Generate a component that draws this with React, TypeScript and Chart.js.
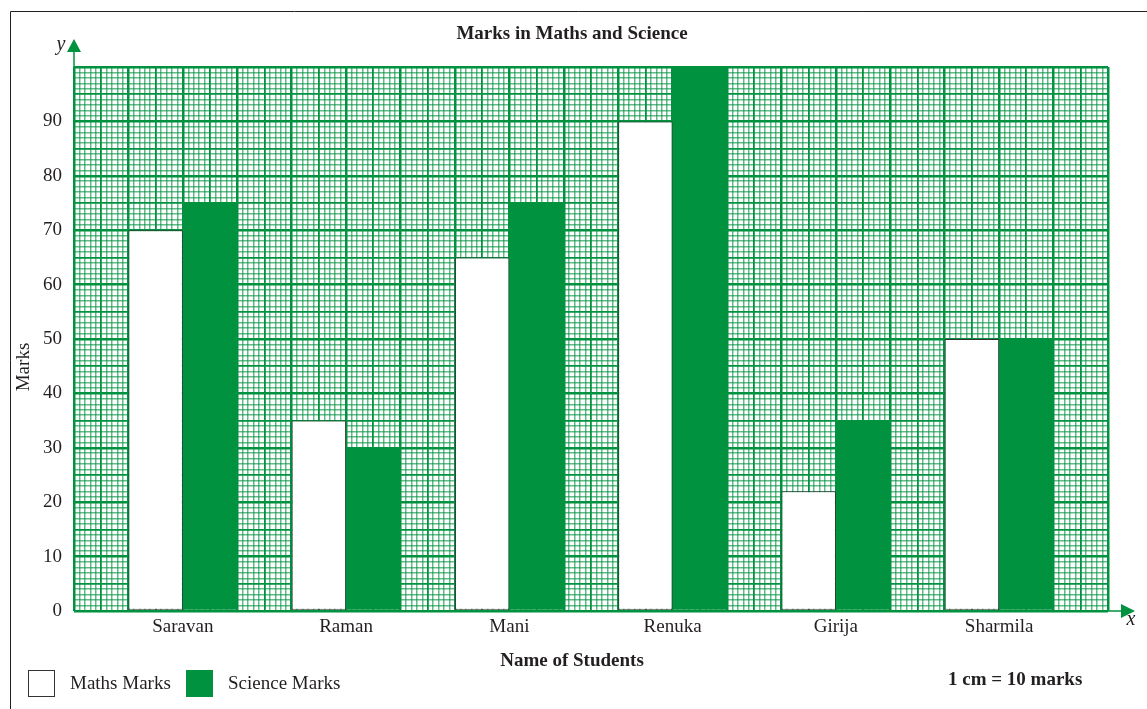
import React, { useEffect, useRef } from 'react';
import { Chart, registerables } from 'chart.js';

Chart.register(...registerables);

// ---- data ----
const students = ['Saravan', 'Raman', 'Mani', 'Renuka', 'Girija', 'Sharmila'];
const mathsMarks = [70, 35, 65, 90, 22, 50];
const scienceMarks = [75, 30, 75, 100, 35, 50];
const yTickLabels = [0, 10, 20, 30, 40, 50, 60, 70, 80, 90];
const seriesLabels = ['Maths Marks', 'Science Marks'];

// graph-paper layout in cm (x) : first student at 2 cm, every 3 cm, 19 cm wide
const firstSlot = 2;
const slotStep = 3;
const xMax = 19;
const yMax = 100;

const GREEN = '#00923f';
const GREEN_LIGHT = 'rgba(0,146,63,0.62)';
const INK = '#231f20';
const SERIF = '"Liberation Serif", "DejaVu Serif", serif';

const slotOf = (i: number) => firstSlot + slotStep * i;

const decorations = {
  id: 'decorations',
  afterDraw(chart: any) {
    const { ctx, chartArea: a } = chart;
    ctx.save();
    // page frame
    ctx.strokeStyle = INK;
    ctx.lineWidth = 1;
    ctx.beginPath();
    ctx.moveTo(10.5, 709);
    ctx.lineTo(10.5, 11.5);
    ctx.lineTo(1147, 11.5);
    ctx.stroke();

    // y arrow
    ctx.strokeStyle = GREEN;
    ctx.fillStyle = GREEN;
    ctx.lineWidth = 1.5;
    ctx.beginPath();
    ctx.moveTo(a.left, a.top);
    ctx.lineTo(a.left, a.top - 16);
    ctx.stroke();
    ctx.beginPath();
    ctx.moveTo(a.left, a.top - 28);
    ctx.lineTo(a.left - 7, a.top - 15);
    ctx.lineTo(a.left + 7, a.top - 15);
    ctx.closePath();
    ctx.fill();

    // x arrow
    ctx.beginPath();
    ctx.moveTo(a.right, a.bottom);
    ctx.lineTo(a.right + 15, a.bottom);
    ctx.stroke();
    ctx.beginPath();
    ctx.moveTo(a.right + 27, a.bottom);
    ctx.lineTo(a.right + 13, a.bottom - 7);
    ctx.lineTo(a.right + 13, a.bottom + 7);
    ctx.closePath();
    ctx.fill();

    // axis letters
    ctx.fillStyle = INK;
    ctx.font = `italic 20px ${SERIF}`;
    ctx.textAlign = 'center';
    ctx.textBaseline = 'middle';
    ctx.fillText('y', a.left - 13, a.top - 22);
    ctx.fillText('x', a.right + 23, a.bottom + 9);

    // title
    ctx.font = `bold 19px ${SERIF}`;
    ctx.fillText('Marks in Maths and Science', 572, 34);

    // x axis title
    ctx.fillText('Name of Students', 572, 661);

    // scale note
    ctx.textAlign = 'left';
    ctx.fillText('1 cm = 10 marks', 948, 680);

    // y axis title
    ctx.save();
    ctx.translate(24, 367);
    ctx.rotate(-Math.PI / 2);
    ctx.textAlign = 'center';
    ctx.font = `19px ${SERIF}`;
    ctx.fillText('Marks', 0, 0);
    ctx.restore();

    // legend
    const ds = chart.data.datasets;
    const boxes = [28, 186];
    ctx.font = `19px ${SERIF}`;
    ctx.textAlign = 'left';
    ds.forEach((d: any, i: number) => {
      const x = boxes[i];
      ctx.fillStyle = d.backgroundColor;
      ctx.fillRect(x, 670, 27, 27);
      if (d.borderWidth) {
        ctx.strokeStyle = d.borderColor;
        ctx.lineWidth = 1;
        ctx.strokeRect(x + 0.5, 670.5, 26, 26);
      }
      ctx.fillStyle = INK;
      ctx.fillText(d.label, x + 42, 684);
    });
    ctx.restore();
  },
};

const gridWidth = (v: number) => (v % 10 === 0 ? 2.5 : v % 5 === 0 ? 1.8 : 1.5);
const gridColor = (v: number) => (v % 5 === 0 ? GREEN : GREEN_LIGHT);

export default function App() {
  const ref = useRef<HTMLCanvasElement>(null);
  useEffect(() => {
    if (!ref.current) return;
    const chart = new Chart(ref.current, {
      type: 'bar',
      data: {
        datasets: [
          {
            label: seriesLabels[0],
            data: mathsMarks.map((y, i) => ({ x: slotOf(i), y })),
            backgroundColor: '#ffffff',
            borderColor: '#333333',
            borderWidth: 1,
            borderSkipped: false,
          },
          {
            label: seriesLabels[1],
            data: scienceMarks.map((y, i) => ({ x: slotOf(i), y })),
            backgroundColor: GREEN,
            borderWidth: 0,
          },
        ],
      },
      options: {
        animation: false,
        responsive: false,
        layout: { padding: { top: 67, left: 0, right: 39, bottom: 68 } },
        datasets: { bar: { categoryPercentage: 2, barPercentage: 1 } },
        plugins: { legend: { display: false }, title: { display: false }, tooltip: { enabled: false } },
        scales: {
          x: {
            type: 'linear',
            position: 'bottom',
            offset: false,
            min: 0,
            max: xMax,
            grid: { display: false, drawTicks: false, offset: false },
            border: { display: false },
            ticks: {
              stepSize: 1,
              autoSkip: false,
              maxRotation: 0,
              padding: 5,
              color: INK,
              font: { family: SERIF, size: 19 },
              callback: (value: any) => {
                const k = (Math.round(Number(value)) - firstSlot) / slotStep;
                return Number.isInteger(k) && k >= 0 && k < students.length ? students[k] : '';
              },
            },
            afterFit: (s: any) => { s.height = 30; },
          },
          xg: {
            type: 'linear',
            position: 'bottom',
            offset: false,
            min: 0,
            max: xMax,
            border: { display: false },
            ticks: { display: false, stepSize: 0.1, autoSkip: false },
            grid: {
              offset: false,
              drawTicks: false,
              lineWidth: (c: any) => gridWidth(Math.round((c.tick ? c.tick.value : 0) * 10)),
              color: (c: any) => gridColor(Math.round((c.tick ? c.tick.value : 0) * 10)),
            },
            afterFit: (s: any) => { s.height = 0; },
          },
          y: {
            type: 'linear',
            min: 0,
            max: yMax,
            border: { display: false },
            ticks: {
              stepSize: 1,
              autoSkip: false,
              padding: 12,
              color: INK,
              font: { family: SERIF, size: 19 },
              callback: (value: any) => {
                const v = Math.round(Number(value));
                return yTickLabels.includes(v) ? String(v) : '';
              },
            },
            grid: {
              drawTicks: false,
              lineWidth: (c: any) => gridWidth(Math.round(c.tick ? c.tick.value : 0)),
              color: (c: any) => gridColor(Math.round(c.tick ? c.tick.value : 0)),
            },
            afterFit: (s: any) => { s.width = 74; },
          },
        },
      } as any,
      plugins: [decorations],
    });
    return () => chart.destroy();
  }, []);
  return (
    <div style={{ position: 'fixed', left: 0, top: 0, width: 1147, height: 709, background: '#fff' }}>
      <canvas ref={ref} width={1147} height={709} style={{ display: 'block' }} />
    </div>
  );
}
